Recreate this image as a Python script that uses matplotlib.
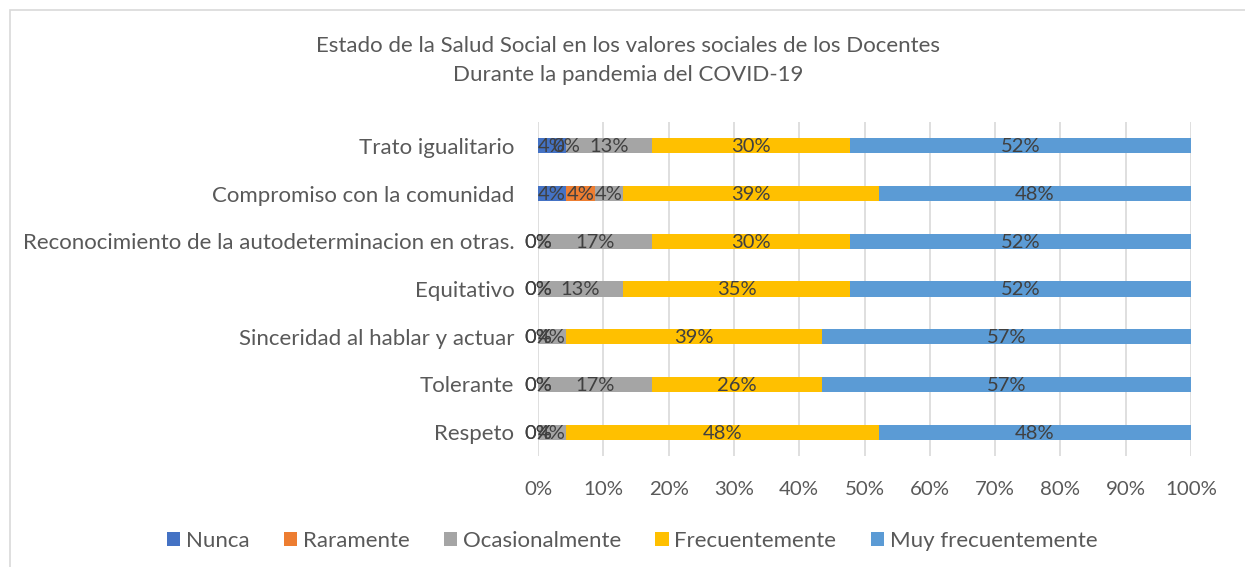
import matplotlib.pyplot as plt
from matplotlib.patches import Rectangle

plt.rcParams['font.family'] = ['Lato', 'DejaVu Sans']

categories = [
    "Respeto",
    "Tolerante",
    "Sinceridad al hablar y actuar",
    "Equitativo",
    "Reconocimiento de la autodeterminacion en otras.",
    "Compromiso con la comunidad",
    "Trato igualitario",
]
series_names = ["Nunca", "Raramente", "Ocasionalmente", "Frecuentemente", "Muy frecuentemente"]
nunca = [0.0, 0.0, 0.0, 0.0, 0.0, 4.35, 4.35]
raramente = [0.0, 0.0, 0.0, 0.0, 0.0, 4.35, 0.0]
ocasionalmente = [4.35, 17.39, 4.35, 13.04, 17.39, 4.35, 13.04]
frecuentemente = [47.83, 26.09, 39.13, 34.78, 30.43, 39.13, 30.43]
muy_frecuentemente = [47.83, 56.52, 56.52, 52.17, 52.17, 47.83, 52.17]
xticks = [0, 10, 20, 30, 40, 50, 60, 70, 80, 90, 100]
title_lines = ["Estado de la Salud Social en los valores sociales de los Docentes",
               "Durante la pandemia del COVID-19"]

colors = ["#4472C4", "#ED7D31", "#A5A5A5", "#FFC000", "#5B9BD5"]
text_gray = "#595959"
label_gray = "#404040"

W, H = 1245, 567
fig = plt.figure(figsize=(W / 100, H / 100), dpi=100)
fig.patches.append(Rectangle((10 / W, -0.1), 1.2, 1 - 10 / H + 0.1,
                             transform=fig.transFigure, fill=False,
                             edgecolor="#D9D9D9", linewidth=1.2))

ax = fig.add_axes([538 / W, 1 - 456 / H, (1191 - 538) / W, (456 - 122) / H])

series = [nunca, raramente, ocasionalmente, frecuentemente, muy_frecuentemente]
ypos = list(range(len(categories)))
left = [0.0] * len(categories)
for name, vals, col in zip(series_names, series, colors):
    ax.barh(ypos, vals, left=left, height=0.32, color=col, label=name, zorder=3)
    for i, (v, l) in enumerate(zip(vals, left)):
        ax.text(l + v / 2, ypos[i] - 0.02, f"{v:.0f}%", ha="center", va="center",
                fontsize=14.5, color=label_gray, zorder=4)
    left = [a + b for a, b in zip(left, vals)]

ax.set_xlim(0, 100)
ax.set_ylim(-0.5, len(categories) - 0.5)
ax.set_xticks(xticks)
ax.set_xticklabels([f"{t}%" for t in xticks], fontsize=14.7, color=text_gray)
ax.set_yticks(ypos)
ax.set_yticklabels(categories, fontsize=16, color=text_gray)
ax.tick_params(axis="y", length=0, pad=17)
ax.tick_params(axis="x", length=0, pad=18)
ax.grid(axis="x", color="#D9D9D9", linewidth=1.2, zorder=0)
for s in ax.spines.values():
    s.set_visible(False)

for line, ypx in zip(title_lines, [46, 75]):
    fig.text(628 / W, 1 - ypx / H, line, ha="center", va="center",
             fontsize=16, color=text_gray)

handles, labels = ax.get_legend_handles_labels()
fig.legend(handles, labels, loc="center", bbox_to_anchor=(632 / W, 1 - 541 / H),
           ncol=5, frameon=False, fontsize=16, labelcolor=text_gray,
           handlelength=0.6, handleheight=0.6, handletextpad=0.25, columnspacing=1.55)

fig.savefig("out.png", dpi=100)
